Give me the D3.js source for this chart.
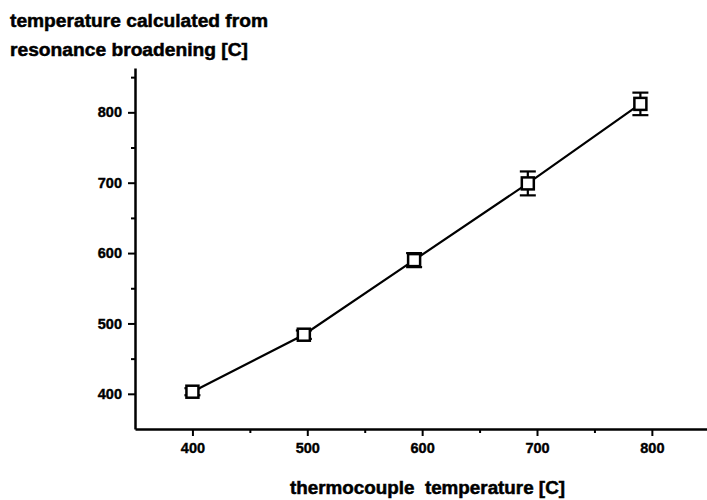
<!DOCTYPE html>
<html><head><meta charset="utf-8">
<script src="https://cdn.jsdelivr.net/npm/d3@7"></script>
<style>
body{margin:0;background:#fff;}
text{font-family:"Liberation Sans",Arial,sans-serif;font-weight:bold;fill:#000;}
</style></head>
<body><svg id="c" width="707" height="500"></svg>
<script>
const thermocouple = [400, 497, 593, 692, 790];
const calculated = [403, 484, 590, 699, 812];
const errors = [5, 6, 10, 17, 16];
const xTicks = [400, 500, 600, 700, 800];
const yTicks = [400, 500, 600, 700, 800];
const xMinor = [450, 550, 650, 750];
const yMinor = [450, 550, 650, 750, 850];

const svg = d3.select("#c");
const x = d3.scaleLinear().domain([350, 848]).range([135, 707]);
const y = d3.scaleLinear().domain([350, 863]).range([429, 68]);

const tickStyle = g => g.selectAll(".tick text")
  .style("font-size","14.5px").style("font-family","'Liberation Sans',Arial,sans-serif")
  .style("font-weight","bold").attr("fill","#000").attr("stroke","#000").attr("stroke-width",0.4);

const xAxis = svg.append("g").attr("transform","translate(0,429)")
  .call(d3.axisBottom(x).tickValues(xTicks).tickSize(7).tickSizeOuter(0).tickPadding(7));
const yAxis = svg.append("g").attr("transform","translate(135,0)")
  .call(d3.axisLeft(y).tickValues(yTicks).tickSize(7).tickSizeOuter(0).tickPadding(6));
[xAxis,yAxis].forEach(a=>{
  a.select(".domain").attr("stroke","#000").attr("stroke-width",2.5);
  a.selectAll(".tick line").attr("stroke","#000").attr("stroke-width",2);
  tickStyle(a);
});
svg.append("g").attr("transform","translate(0,429)")
  .call(d3.axisBottom(x).tickValues(xMinor).tickSize(4).tickFormat(""))
  .call(g=>{g.select(".domain").remove();g.selectAll("line").attr("stroke","#000").attr("stroke-width",2);});
svg.append("g").attr("transform","translate(135,0)")
  .call(d3.axisLeft(y).tickValues(yMinor).tickSize(4).tickFormat(""))
  .call(g=>{g.select(".domain").remove();g.selectAll("line").attr("stroke","#000").attr("stroke-width",2);});

const data = thermocouple.map((t,i)=>({t, c:calculated[i], e:errors[i]}));

svg.append("path").datum(data)
  .attr("d", d3.line().x(d=>x(d.t)).y(d=>y(d.c)))
  .attr("fill","none").attr("stroke","#000").attr("stroke-width",2.2);

const eb = svg.append("g").attr("stroke","#000").attr("stroke-width",2.2);
data.forEach(d=>{
  eb.append("line").attr("x1",x(d.t)).attr("x2",x(d.t)).attr("y1",y(d.c+d.e)).attr("y2",y(d.c-d.e));
  eb.append("line").attr("x1",x(d.t)-8).attr("x2",x(d.t)+8).attr("y1",y(d.c+d.e)).attr("y2",y(d.c+d.e));
  eb.append("line").attr("x1",x(d.t)-8).attr("x2",x(d.t)+8).attr("y1",y(d.c-d.e)).attr("y2",y(d.c-d.e));
});

svg.append("g").selectAll("rect").data(data).join("rect")
  .attr("x",d=>x(d.t)-6).attr("y",d=>y(d.c)-6).attr("width",12).attr("height",12)
  .attr("fill","#fff").attr("stroke","#000").attr("stroke-width",2.5);

const title = (tx,ty,s,len,anchor) => svg.append("text").attr("x",tx).attr("y",ty)
  .attr("text-anchor",anchor||"start").style("font-size","18px")
  .attr("stroke","#000").attr("stroke-width",0.5)
  .attr("textLength",len).attr("lengthAdjust","spacingAndGlyphs")
  .style("white-space","pre").text(s);
title(10,27,"temperature calculated from",258);
title(10,56,"resonance broadening [C]",238);
title(290,494,"thermocouple  temperature [C]",275);
</script></body></html>
